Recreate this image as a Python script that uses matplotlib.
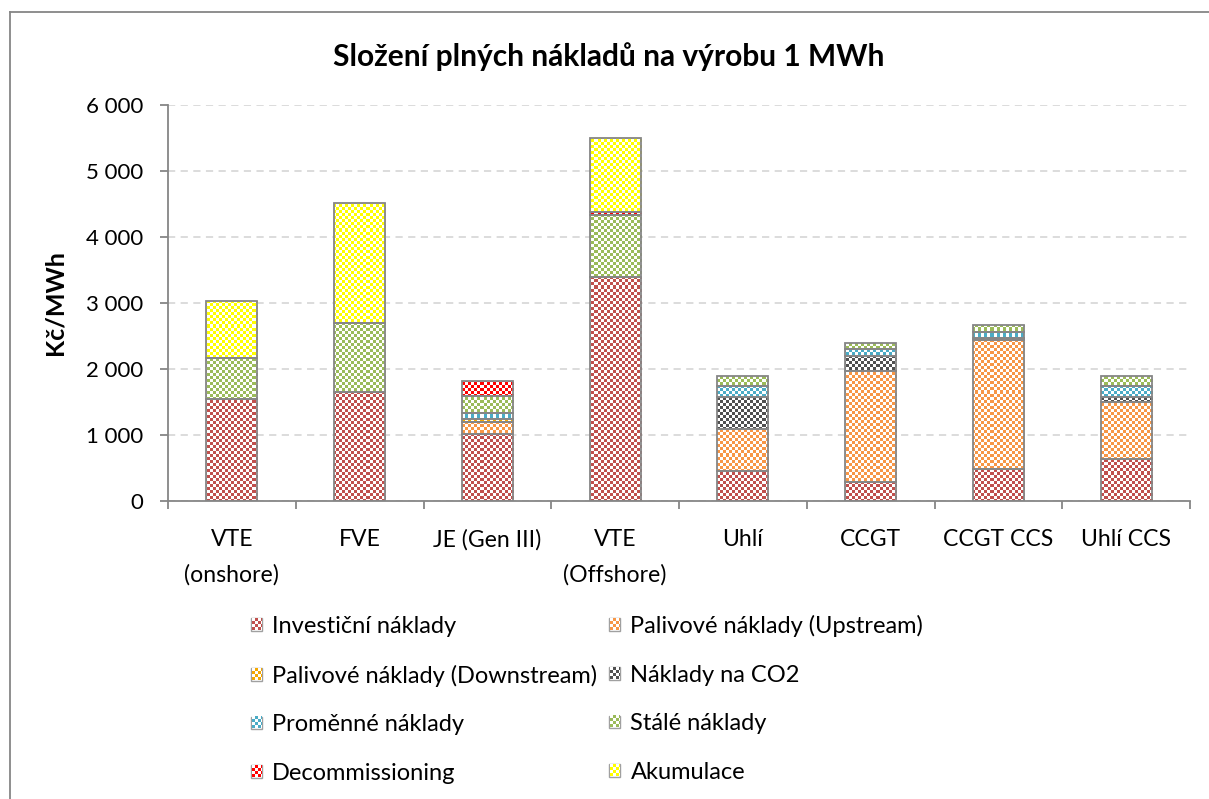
import math
import numpy as np
import matplotlib
matplotlib.use("Agg")
import matplotlib.pyplot as plt
from matplotlib.ticker import FuncFormatter, FixedLocator
from matplotlib.colors import to_rgba

plt.rcParams['font.family'] = ['Lato', 'DejaVu Sans']

categories = ["VTE\n(onshore)", "FVE", "JE (Gen III)", "VTE\n(Offshore)",
              "Uhlí", "CCGT", "CCGT CCS", "Uhlí CCS"]

# Kč/MWh, stacked bottom to top
investicni = [1544, 1650, 1015, 3401, 449, 282, 484, 640]
palivo_up = [0, 0, 175, 0, 646, 1691, 1958, 859]
palivo_down = [0, 0, 45, 0, 0, 0, 0, 0]
naklady_co2 = [0, 0, 0, 0, 480, 227, 26, 76]
promenne = [0, 0, 105, 0, 175, 101, 91, 175]
stale = [621, 1045, 254, 933, 150, 89, 110, 150]
decommissioning = [0, 0, 227, 51, 0, 0, 0, 0]
akumulace = [868, 1826, 0, 1111, 0, 0, 0, 0]

series = [
    ("Investiční náklady", investicni, "#C0504D"),
    ("Palivové náklady (Upstream)", palivo_up, "#F79646"),
    ("Palivové náklady (Downstream)", palivo_down, "#F5A800"),
    ("Náklady na CO2", naklady_co2, "#505050"),
    ("Proměnné náklady", promenne, "#4BACC6"),
    ("Stálé náklady", stale, "#9BBB59"),
    ("Decommissioning", decommissioning, "#FF0000"),
    ("Akumulace", akumulace, "#FFFF00"),
]

W, H = 1209, 799
CELL = 3  # checker cell size in pixels
EDGE = "#868686"

fig = plt.figure(figsize=(W / 100, H / 100), dpi=100)
ax = fig.add_axes([168 / W, 1 - 501 / H, (1190 - 168) / W, (501 - 105) / H])
ax.set_xlim(-0.5, len(categories) - 0.5)
ax.set_ylim(0, 6000)

# chart-area border (only left and top edges visible in the crop)
fig.add_artist(plt.Line2D([10 / W, 10 / W], [0, 1 - 12 / H], transform=fig.transFigure,
                          color="#868686", lw=1.3))
fig.add_artist(plt.Line2D([10 / W, 1], [1 - 12 / H, 1 - 12 / H], transform=fig.transFigure,
                          color="#868686", lw=1.3))


def checker(nr, nc, i0, j0, color):
    c = np.array(to_rgba(color))
    ii, jj = np.meshgrid(np.arange(nr) + i0, np.arange(nc) + j0, indexing="ij")
    mask = ((ii + jj) % 2 == 0)
    arr = np.ones((nr, nc, 4))
    arr[mask] = c
    return arr


x = np.arange(len(categories))
bottom = np.zeros(len(categories))
for name, vals, color in series:
    vals = np.array(vals, dtype=float)
    bars = ax.bar(x, vals, 0.4, bottom=bottom, facecolor="none", edgecolor=EDGE,
                  linewidth=1.3, label=name, zorder=3)
    for patch, v in zip(bars.patches, vals):
        if v <= 0:
            patch.set_linewidth(0)
            continue
        (x0, y0), (x1, y1) = ax.transData.transform(
            [(patch.get_x(), patch.get_y()),
             (patch.get_x() + patch.get_width(), patch.get_y() + patch.get_height())])
        j0 = math.floor(x0 / CELL)
        j1 = math.ceil(x1 / CELL)
        i0 = math.floor(y0 / CELL)
        i1 = math.ceil(y1 / CELL)
        arr = checker(i1 - i0, j1 - j0, i0, j0, color)
        (dx0, dy0), (dx1, dy1) = ax.transData.inverted().transform(
            [(j0 * CELL, i0 * CELL), (j1 * CELL, i1 * CELL)])
        im = ax.imshow(arr, extent=(dx0, dx1, dy0, dy1), origin="lower",
                       interpolation="nearest", aspect="auto", zorder=2)
        im.set_clip_path(patch)
    bottom += vals

ax.set_xlim(-0.5, len(categories) - 0.5)
ax.set_ylim(0, 6000)

# grid, axes
ax.set_yticks(range(0, 6001, 1000))
ax.yaxis.set_major_formatter(FuncFormatter(lambda v, p: f"{int(v):,}".replace(",", " ")))
ax.grid(axis="y", color="#D9D9D9", linestyle=(0, (4, 3)), linewidth=1.3, zorder=0)
ax.set_axisbelow(True)
for s in ("top", "right"):
    ax.spines[s].set_visible(False)
for s in ("left", "bottom"):
    ax.spines[s].set_color("#868686")
    ax.spines[s].set_linewidth(1.3)

ax.set_xticks(x)
ax.set_xticklabels(categories, linespacing=1.8)
ax.xaxis.set_minor_locator(FixedLocator(np.arange(-0.5, len(categories), 1.0)))
ax.tick_params(axis="x", which="major", length=0, pad=20, labelsize=16.6)
ax.tick_params(axis="x", which="minor", length=6, width=1.3, color="#868686")
ax.tick_params(axis="y", length=6, width=1.3, color="#868686", labelsize=16, pad=12)

ax.set_ylabel("Kč/MWh", fontsize=18, fontweight="bold", labelpad=14)
fig.text(609 / W, 1 - 57 / H, "Složení plných nákladů na výrobu 1 MWh",
         ha="center", va="center", fontsize=21.5, fontweight="bold")

# legend: row-major like the original, matplotlib fills column-major
order = [0, 2, 4, 6, 1, 3, 5, 7]
leg_handles = [plt.Rectangle((0, 0), 1, 1, facecolor="white", edgecolor="#A0A0A0", lw=1.0)
               for _ in order]
leg = fig.legend(leg_handles, [series[i][0] for i in order], ncol=2,
                 loc="upper left", bbox_to_anchor=(251 / W, 1 - 615 / H),
                 frameon=False, fontsize=17, handlelength=0.45, handleheight=0.45,
                 handletextpad=0.45, labelspacing=1.17, columnspacing=0.5,
                 borderaxespad=0, borderpad=0)

fig.canvas.draw()
renderer = fig.canvas.get_renderer()
for patch, i in zip(leg.get_patches(), order):
    bb = patch.get_window_extent(renderer)
    x0, y0 = int(round(bb.x0)) + 1, int(round(bb.y0)) + 1
    w, h = int(round(bb.width)) - 1, int(round(bb.height)) - 1
    nr, nc = math.ceil(h / CELL), math.ceil(w / CELL)
    arr = checker(nr, nc, 0, 0, series[i][2])
    arr = np.repeat(np.repeat(arr, CELL, axis=0), CELL, axis=1)[:h, :w]
    fig.figimage(arr, xo=x0, yo=y0, origin="lower", zorder=10)

fig.savefig("out.png", dpi=100)
